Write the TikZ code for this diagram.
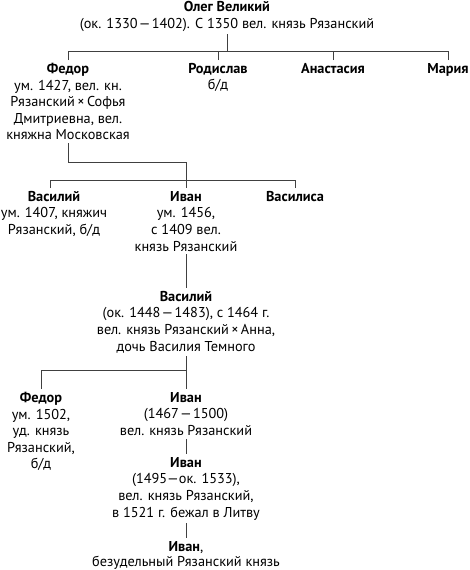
\documentclass[tikz,border=0pt]{standalone}
\usepackage{fontspec}
\setmainfont{PT Sans}
\usetikzlibrary{positioning, calc}
\tikzset{
  person/.style={anchor=north,align=center,inner xsep=0pt,inner ysep=3pt,font=\fontsize{14.3}{16.6}\selectfont},
  link/.style={draw=black!75,line width=0.7pt}
}
\newcommand{\nm}[1]{\textbf{#1}}
\newcommand{\dsh}{\kern1.2pt—\kern1.2pt}

\begin{document}
\begin{tikzpicture}[x=1pt,y=-1pt]
  \useasboundingbox (0,0) rectangle (469,570);

  % first generation
  \node[person] (oleg) at (227,-2)
    {\nm{Олег Великий}\\(ок. 1330\dsh1402). С 1350 вел. князь Рязанский};

  \node[person] (fedor) at (68,60)
    {\nm{Федор}\\ум. 1427, вел. кн.\\Рязанский\,×\,Софья\\Дмитриевна, вел.\\княжна Московская};
  \node[person] (rodislav) at (218,60) {\nm{Родислав}\\б/д};
  \node[person] (anastasia) at (333,60) {\nm{Анастасия}};
  \node[person] (maria) at (448,60) {\nm{Мария}};

  % children of Fedor
  \node[person] (vasily) at (54,188)
    {\nm{Василий}\\ум. 1407, княжич\\Рязанский, б/д};
  \node[person] (ivan) at (186,188)
    {\nm{Иван}\\ум. 1456,\\с 1409 вел.\\князь Рязанский};
  \node[person] (vasilisa) at (295,188) {\nm{Василиса}};

  \node[person] (vasily2) at (186,288)
    {\nm{Василий}\\(ок. 1448\dsh1483), с 1464 г.\\вел. князь Рязанский\,×\,Анна,\\дочь Василия Темного};

  \node[person] (fedor2) at (41,389)
    {\nm{Федор}\\ум. 1502,\\уд. князь\\Рязанский,\\б/д};
  \node[person] (ivan2) at (186,389)
    {\nm{Иван}\\(1467\dsh1500)\\вел. князь Рязанский};

  \node[person] (ivan3) at (186,454)
    {\nm{Иван}\\(1495—ок. 1533),\\вел. князь Рязанский,\\в 1521 г. бежал в Литву};

  \node[person] (ivan4) at (186,538)
    {\nm{Иван},\\[-1.5pt]безудельный Рязанский князь};

  % bars
  \coordinate (bar1) at (0,51);
  \coordinate (turn) at (0,162);
  \coordinate (bar2) at (0,180);
  \coordinate (bar3) at (0,370);

  \draw[link] (oleg.south) -- (oleg.south |- bar1);
  \draw[link] (fedor.north |- bar1) -- (maria.north |- bar1);
  \foreach \n in {fedor,rodislav,anastasia,maria}
    \draw[link] (\n.north) -- (\n.north |- bar1);

  \draw[link] (fedor.south) |- (ivan.north |- turn) -- (ivan.north);
  \draw[link] ([xshift=-4pt]vasily.north |- bar2) -- (vasilisa.north |- bar2);
  \draw[link] ([xshift=-4pt]vasily.north) -- ([xshift=-4pt]vasily.north |- bar2);
  \draw[link] (vasilisa.north) -- (vasilisa.north |- bar2);

  \draw[link] (ivan.south) -- (vasily2.north);
  \draw[link] (vasily2.south) -- (ivan2.north);
  \draw[link] (fedor2.north) |- (ivan2.north |- bar3);
  \draw[link] (ivan2.south) -- (ivan3.north);
  \draw[link] (ivan3.south) -- (ivan4.north);
\end{tikzpicture}
\end{document}
